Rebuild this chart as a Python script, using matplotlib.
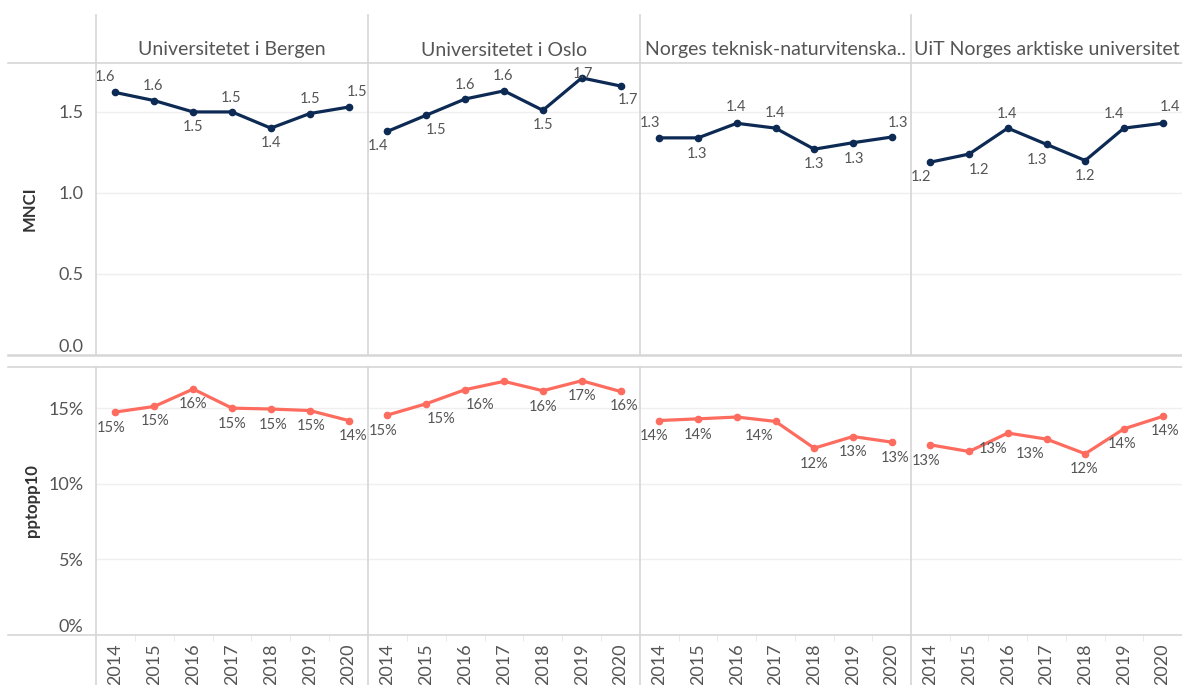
import matplotlib.pyplot as plt
from matplotlib.lines import Line2D

plt.rcParams['font.family'] = ['Lato', 'DejaVu Sans']

years = ['2014', '2015', '2016', '2017', '2018', '2019', '2020']
universities = ['Universitetet i Bergen', 'Universitetet i Oslo',
                'Norges teknisk-naturvitenska..', 'UiT Norges arktiske universitet']

mnci_bergen = [1.62, 1.57, 1.50, 1.50, 1.40, 1.49, 1.53]
mnci_oslo = [1.38, 1.48, 1.58, 1.63, 1.51, 1.71, 1.66]
mnci_ntnu = [1.34, 1.34, 1.43, 1.40, 1.27, 1.31, 1.345]
mnci_uit = [1.19, 1.24, 1.40, 1.30, 1.20, 1.40, 1.43]

pptopp10_bergen = [14.75, 15.12, 16.27, 15.01, 14.95, 14.85, 14.19]
pptopp10_oslo = [14.55, 15.30, 16.23, 16.78, 16.16, 16.82, 16.11]
pptopp10_ntnu = [14.19, 14.30, 14.42, 14.13, 12.36, 13.13, 12.76]
pptopp10_uit = [12.58, 12.14, 13.36, 12.96, 11.99, 13.64, 14.46]

mnci = [mnci_bergen, mnci_oslo, mnci_ntnu, mnci_uit]
pptopp10 = [pptopp10_bergen, pptopp10_oslo, pptopp10_ntnu, pptopp10_uit]

# label placement (pixel offsets from the point, None = label hidden)
mnci_lab = [
    [(-10, 15), (-1, 15), (0, -15), (-1, 14), (0, -15), (0, 15), (8, 15)],
    [(-9, -15), (10, -15), (0, 14), (-1, 15), (0, -15), (1, 4), (7, -14)],
    [(-9, 15), (-1, -16), (-1, 16), (0, 15), (0, -15), (1, -16), (6, 14)],
    [(-9, -15), (10, -16), (-1, 14), (-10, -16), (0, -15), (-10, 14), (7, 16)],
]
pp_lab = [
    [(-4, -16), (1, -15), (0, -15), (0, -16), (2, -16), (1, -15), (4, -15)],
    [(-4, -16), (15, -15), (15, -15), None, (0, -16), (0, -15), (3, -15)],
    [(-5, -15), (0, -16), None, (-16, -15), (0, -16), (0, -15), (3, -16)],
    [(-4, -16), None, (-15, -16), (-16, -15), (-1, -15), (-2, -15), (2, -15)],
]

W, H = 1182, 685
fig = plt.figure(figsize=(W / 100, H / 100), dpi=100)

navy = '#0d2a54'
salmon = '#fd6c5f'
grid_c = '#efefef'
border_c = '#d6d6d6'
text_c = '#555555'

col_left = [96, 368, 640, 911]
col_w = [272, 272, 271, 271]
rows = [(63, 355, 1.802, [0, 0.5, 1.0, 1.5]), (367, 635, 17.73, [0, 5, 10, 15])]

x = list(range(len(years)))

for r, (top, bot, ymax, ticks) in enumerate(rows):
    for c in range(4):
        ax = fig.add_axes([col_left[c] / W, 1 - bot / H, col_w[c] / W, (bot - top) / H])
        ax.set_xlim(-0.5, len(years) - 0.5)
        ax.set_ylim(0, ymax)
        for s in ax.spines.values():
            s.set_visible(False)
        for t in ticks[1:]:
            ax.axhline(t, color=grid_c, lw=1, zorder=0)
        if r == 0:
            vals = mnci[c]
            ax.plot(x, vals, color=navy, lw=2.3, marker='o', ms=4.5, zorder=3)
            labs = [f'{v:.1f}' for v in vals]
            offs = mnci_lab[c]
        else:
            vals = pptopp10[c]
            ax.plot(x, vals, color=salmon, lw=2.3, marker='o', ms=4.5, zorder=3)
            labs = [f'{v:.0f}%' for v in vals]
            offs = pp_lab[c]
        for i, v in enumerate(vals):
            if offs[i] is None:
                continue
            ax.annotate(labs[i], (i, v), xytext=offs[i], textcoords='offset pixels',
                        ha='center', va='center', fontsize=10.5, color=text_c,
                        annotation_clip=False, zorder=4)
        ax.set_yticks(ticks)
        if c == 0:
            if r == 0:
                ax.set_yticklabels([f'{t:.1f}' for t in ticks])
            else:
                ax.set_yticklabels([f'{t:.0f}%' for t in ticks])
            ax.tick_params(axis='y', length=0, labelsize=13, labelcolor=text_c, pad=9)
            for lab, t in zip(ax.get_yticklabels(), ticks):
                if t == 0:
                    lab.set_va('bottom')
        else:
            ax.tick_params(axis='y', left=False, labelleft=False)
        if r == 1:
            ax.set_xticks(x)
            ax.set_xticklabels(years, rotation=90)
            ax.set_xticks([i + 0.5 for i in x[:-1]], minor=True)
            ax.tick_params(axis='x', which='major', length=0, labelsize=13,
                           labelcolor=text_c, pad=6)
            ax.tick_params(axis='x', which='minor', length=4, color='#e6e6e6')
        else:
            ax.set_xticks([])
        if r == 0:
            fig.text((col_left[c] + col_w[c] / 2) / W, 1 - 50 / H, universities[c],
                     ha='center', va='center', fontsize=14, color=text_c)

fig.text(30 / W, 1 - 209 / H, 'MNCI', rotation=90, ha='center', va='center',
         fontsize=12, color='#333333', fontweight='bold')
fig.text(32 / W, 1 - 501 / H, 'pptopp10', rotation=90, ha='center', va='center',
         fontsize=12, color='#333333', fontweight='bold')

# table borders
for yy, lw in [(63, 1.2), (355, 1.8), (367, 1.2), (635, 1.2)]:
    fig.add_artist(Line2D([8 / W, 1], [1 - yy / H] * 2, color=border_c, lw=lw))
for xx in col_left:
    fig.add_artist(Line2D([xx / W] * 2, [1 - 15 / H, 1 - 355 / H], color=border_c, lw=1.2))
    fig.add_artist(Line2D([xx / W] * 2, [1 - 367 / H, 0], color=border_c, lw=1.2))

fig.savefig('out.png', dpi=100)
